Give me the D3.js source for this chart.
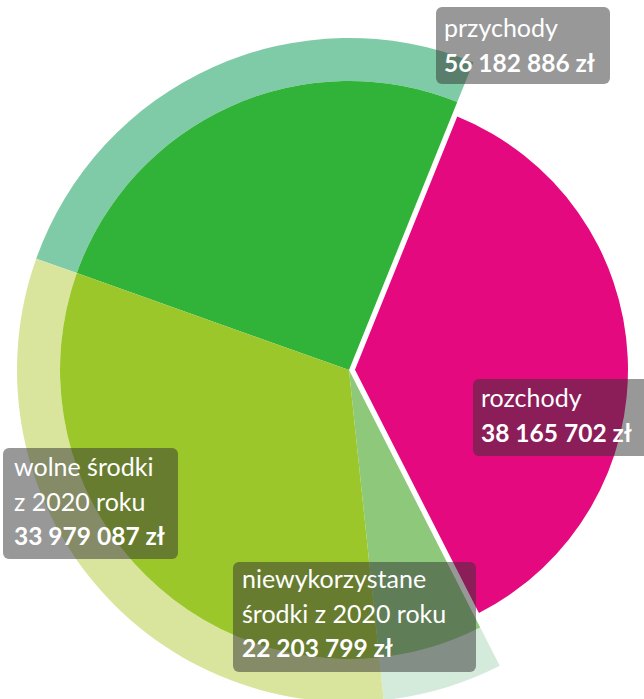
<!DOCTYPE html>
<html>
<head>
<meta charset="utf-8">
<script src="https://cdn.jsdelivr.net/npm/d3@7"></script>
<style>
  html, body { margin: 0; padding: 0; background: #fff; }
  svg { display: block; }
</style>
</head>
<body>
<div class="container"></div>
<script>
// dane
const names = ["przychody", "rozchody", "niewykorzystane środki z 2020 roku", "wolne środki z 2020 roku"];
const labelLines = [["przychody"], ["rozchody"], ["niewykorzystane", "środki z 2020 roku"], ["wolne środki", "z 2020 roku"]];
const amounts = [56182886, 38165702, 22203799, 33979087];
// wielkość wycinków (stopnie)
const shares = [92.4, 131, 21, 115.6];

// wygląd
const W = 644, H = 699;
const cx = 349, cy = 370;
const rInner = 289, rOuter = 332, rPink = 273;
const startDeg = -70.4;
const pinkShift = 6;

const fills = ["url(#gDark)", "#e4097f", "#8dc87b", "url(#gLime)"];
const ringFills = ["#80cba7", null, "#d4eadb", "#d9e59d"];

// pozycje etykiet
const boxes = [
  { x: 436, y: 7, w: 174, h: 77, tx: 444, ty: 37 },
  { x: 473, y: 379, w: 177, h: 77, tx: 481, ty: 407 },
  { x: 233, y: 562, w: 243, h: 110, tx: 242, ty: 588 },
  { x: 3, y: 448, w: 175, h: 111, tx: 14, ty: 476 }
];
const lineGap = 34.5;

const svg = d3.select(".container")
  .append("svg")
  .attr("width", W)
  .attr("height", H)
  .attr("viewBox", `0 0 ${W} ${H}`);

const defs = svg.append("defs");
const gDark = defs.append("linearGradient").attr("id", "gDark")
  .attr("gradientUnits", "userSpaceOnUse")
  .attr("x1", 0).attr("y1", cy - rInner).attr("x2", 0).attr("y2", cy);
gDark.append("stop").attr("offset", 0).attr("stop-color", "#31b33a");
gDark.append("stop").attr("offset", 1).attr("stop-color", "#17a941");
const gLime = defs.append("linearGradient").attr("id", "gLime")
  .attr("gradientUnits", "userSpaceOnUse")
  .attr("x1", 0).attr("y1", cy - 100).attr("x2", 0).attr("y2", cy + rInner);
gLime.append("stop").attr("offset", 0).attr("stop-color", "#9cc72a");
gLime.append("stop").attr("offset", 1).attr("stop-color", "#7cb82d");

const rad = Math.PI / 180;
const pie = d3.pie()
  .sort(null)
  .value(d => d)
  .startAngle(startDeg * rad)
  .endAngle(startDeg * rad + 2 * Math.PI);

const slices = pie(shares);

const g = svg.append("g").attr("transform", `translate(${cx},${cy})`);

const ringArc = d3.arc().innerRadius(rInner).outerRadius(rOuter);
const innerArc = d3.arc().innerRadius(0).outerRadius(rInner);
const pinkArc = d3.arc().innerRadius(0).outerRadius(rPink);

// zewnętrzny pierścień
g.selectAll(".ring")
  .data(slices.filter((d, i) => ringFills[i]))
  .enter()
  .append("path")
  .attr("class", "ring")
  .attr("d", ringArc)
  .attr("fill", d => ringFills[d.index]);

// wycinki
g.selectAll(".slice")
  .data(slices)
  .enter()
  .append("path")
  .attr("class", "slice")
  .attr("d", d => d.index === 1 ? pinkArc(d) : innerArc(d))
  .attr("fill", d => fills[d.index])
  .attr("transform", d => {
    if (d.index !== 1) return null;
    const a = (d.startAngle + d.endAngle) / 2;
    return `translate(${pinkShift * Math.sin(a)},${-pinkShift * Math.cos(a)})`;
  });

// etykiety
const fmt = v => d3.format(",")(v).replace(/,/g, " ") + " zł";

const labels = svg.selectAll(".label")
  .data(slices)
  .enter()
  .append("g")
  .attr("class", "label");

labels.append("rect")
  .attr("x", d => boxes[d.index].x)
  .attr("y", d => boxes[d.index].y)
  .attr("width", d => boxes[d.index].w)
  .attr("height", d => boxes[d.index].h)
  .attr("rx", 6)
  .attr("fill", "rgba(50,50,50,0.5)");

labels.each(function (d) {
  const b = boxes[d.index];
  const lines = labelLines[d.index];
  const sel = d3.select(this);
  lines.forEach((t, k) => {
    sel.append("text")
      .attr("x", b.tx)
      .attr("y", b.ty + k * lineGap)
      .attr("fill", "#fff")
      .style("font-family", "Lato, 'Noto Sans', sans-serif")
      .style("font-size", "25px")
      .text(t);
  });
  sel.append("text")
    .attr("x", b.tx)
    .attr("y", b.ty + lines.length * lineGap)
    .attr("fill", "#fff")
    .style("font-family", "Lato, 'Noto Sans', sans-serif")
    .style("font-size", "24.5px")
    .style("font-weight", "bold")
    .text(fmt(amounts[d.index]));
});
</script>
</body>
</html>
